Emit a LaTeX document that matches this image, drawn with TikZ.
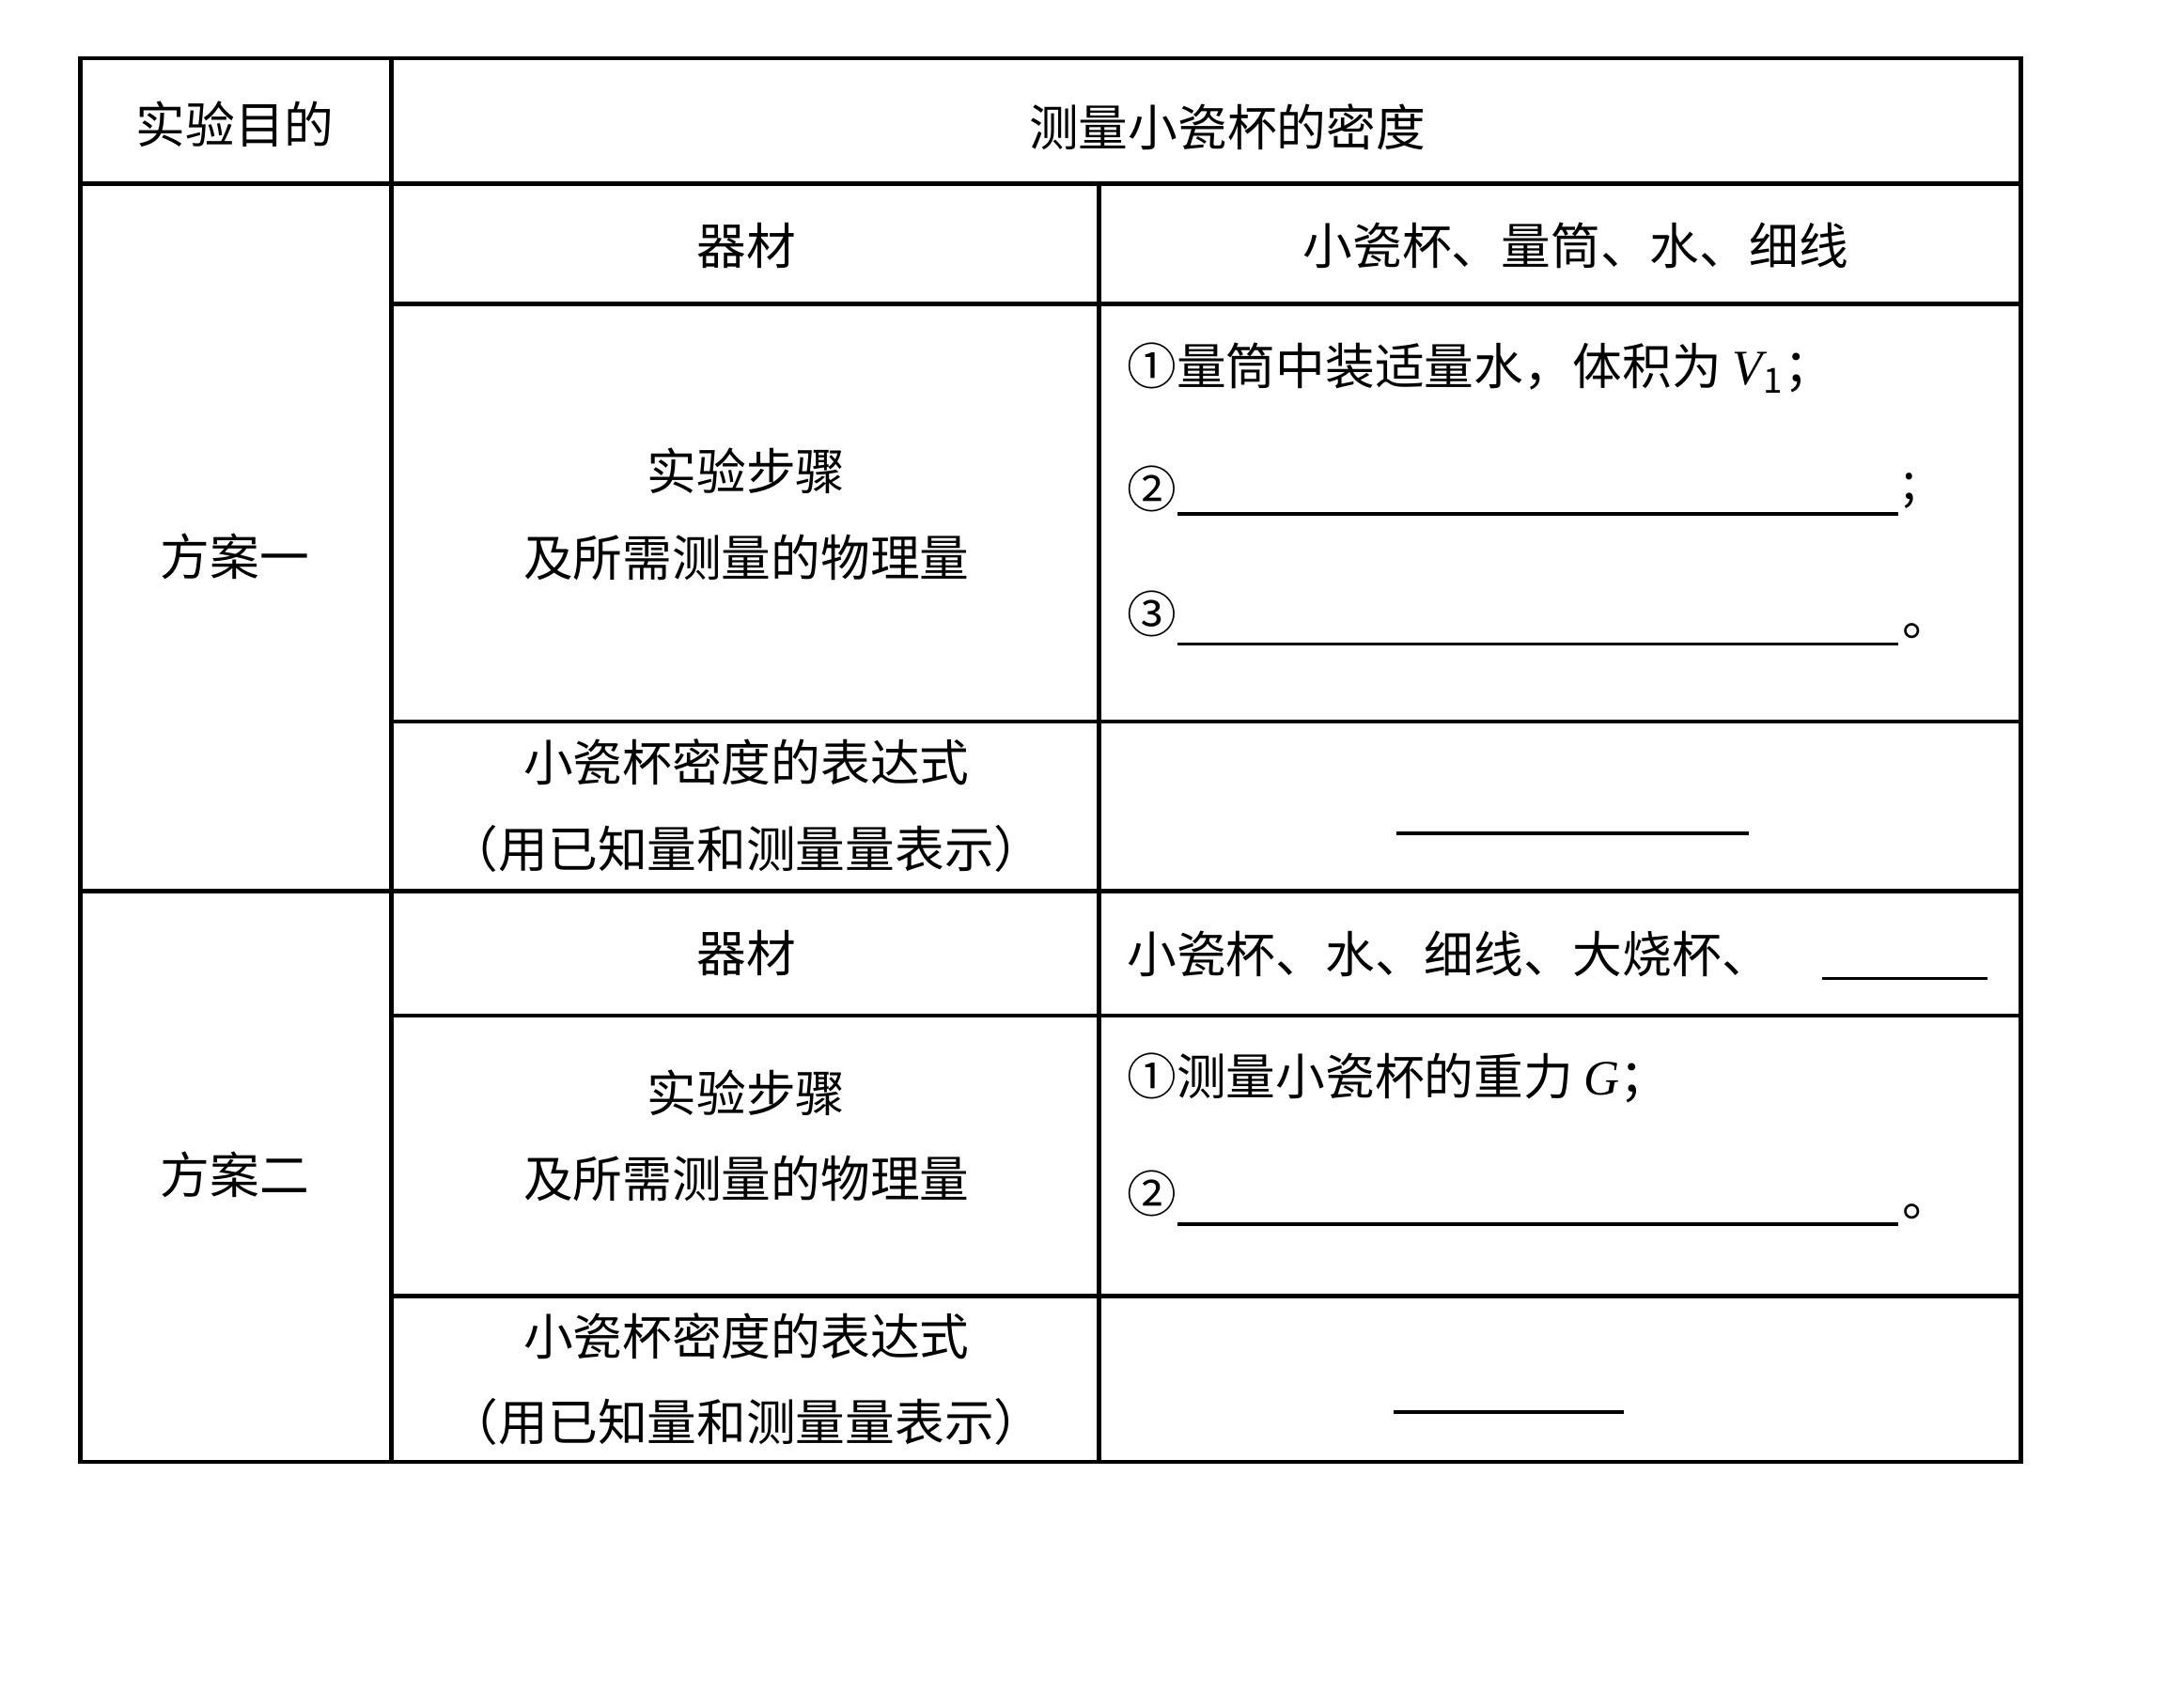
\documentclass[tikz,border=0pt]{standalone}
\usepackage{fontspec}
\setmainfont{Noto Sans CJK SC}
\newfontfamily\italicfont{Liberation Serif}
\begin{document}
\begin{tikzpicture}[x=0.014708cm,y=-0.014708cm]
        \tikzset{cell/.style={font=\fontsize{15pt}{26pt}\selectfont,align=center,inner sep=0pt},
                 txt/.style={cell,anchor=west},
                 rule/.style={line width=1.3pt},
                 blank/.style={line width=1pt}}
        \useasboundingbox (0,0) rectangle (1567.8,1236);

        % table rules
        \draw[rule] (58,42) rectangle (1462,1058);
        \draw[rule] (283,42) -- (283,1058);
        \draw[rule] (795,133) -- (795,1058);
        \draw[rule] (58,133) -- (1462,133);
        \draw[rule] (283,220) -- (1462,220);
        \draw[rule] (283,522) -- (1462,522);
        \draw[rule] (58,645) -- (1462,645);
        \draw[rule] (283,735) -- (1462,735);
        \draw[rule] (283,938) -- (1462,938);

        \node[cell] (aim) at (170,90) {实验目的};
        \node[cell] (aimtxt) at (888,92) {测量小瓷杯的密度};
        \node[cell] (planA) at (170,403) {方案一};
        \node[cell] (planB) at (170,850) {方案二};

        \node[cell] (equipA) at (540,178) {器材};
        \node[cell] (equipAtxt) at (1140,178) {小瓷杯、量筒、水、细线};
        \node[cell] (stepsA) at (540,372) {实验步骤\\及所需测量的物理量};
        \node[txt] (sA1) at (815,266) {①量筒中装适量水，体积为 {\italicfont\itshape V}\textsubscript{1}；};
        \node[txt] (sA2) at (815,354) {②};
        \node[txt] (sA3) at (815,444) {③};
        \node[cell] (exprA) at (540,583) {小瓷杯密度的表达式\\（用已知量和测量量表示）};

        \node[cell] (equipB) at (540,690) {器材};
        \node[txt] (equipBtxt) at (815,690) {小瓷杯、水、细线、大烧杯、};
        \node[cell] (stepsB) at (540,822) {实验步骤\\及所需测量的物理量};
        \node[txt] (sB1) at (815,780) {①测量小瓷杯的重力 {\italicfont\itshape G}；};
        \node[txt] (sB2) at (815,864) {②};
        \node[cell] (exprB) at (540,998) {小瓷杯密度的表达式\\（用已知量和测量量表示）};

        % answer blanks
        \coordinate (a2e) at (1373,372);
        \coordinate (a3e) at (1373,466);
        \draw[blank] (sA2.east |- a2e) -- (a2e) node[txt,anchor=south west,inner sep=1pt] {;};
        \draw[blank] (sA3.east |- a3e) -- (a3e) node[txt,anchor=south west,inner sep=1pt] {。};
        \coordinate (eAs) at (1010,603);
        \coordinate (eAe) at (1265,603);
        \draw[blank] (eAs) -- (eAe);
        \coordinate (bEs) at (1318,708);
        \coordinate (bEe) at (1438,708);
        \draw[blank] (bEs) -- (bEe);
        \coordinate (b2e) at (1373,886);
        \draw[blank] (sB2.east |- b2e) -- (b2e) node[txt,anchor=south west,inner sep=1pt] {。};
        \coordinate (eBs) at (1008,1022);
        \coordinate (eBe) at (1175,1022);
        \draw[blank] (eBs) -- (eBe);
\end{tikzpicture}
\end{document}
